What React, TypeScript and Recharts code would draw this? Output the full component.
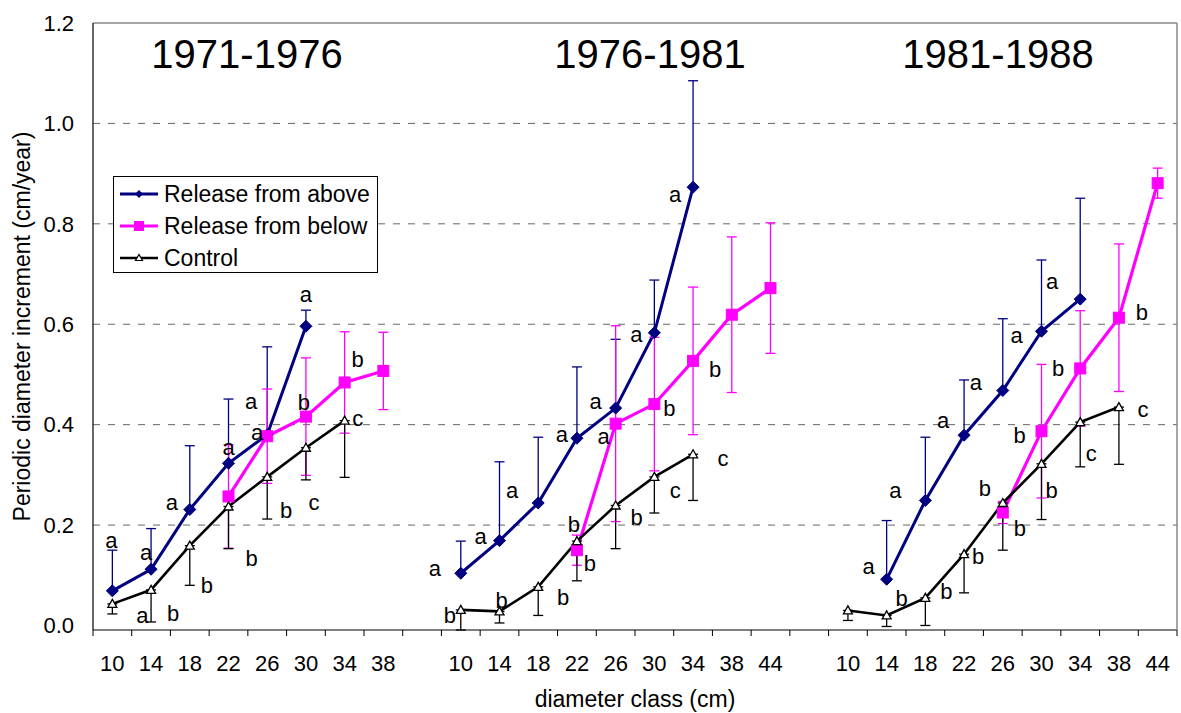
import React from "react";
import {
  LineChart,
  Line,
  XAxis,
  YAxis,
  CartesianGrid,
  ErrorBar,
  ReferenceLine,
  Legend,
  LabelList,
} from "recharts";

const FONT = "'Liberation Sans', Arial, sans-serif";
const NAVY = "#000080";
const PINK = "#ff00ff";
const BLACK = "#000000";

const periods = ["1971-1976", "1976-1981", "1981-1988"];

// diameter classes (cm) per period
const classes1 = [10, 14, 18, 22, 26, 30, 34, 38];
const classes2 = [10, 14, 18, 22, 26, 30, 34, 38, 44];
const classes3 = [10, 14, 18, 22, 26, 30, 34, 38, 44];

// 1971-1976
const above1 = [0.069, 0.112, 0.231, 0.323, 0.38, 0.596, null, null];
const aboveErr1 = [0.081, 0.081, 0.127, 0.128, 0.175, 0.032, null, null];
const below1 = [null, null, null, 0.257, 0.377, 0.416, 0.484, 0.507];
const belowErr1 = [null, null, null, 0.103, 0.094, 0.117, 0.101, 0.077];
const control1 = [0.043, 0.071, 0.159, 0.237, 0.296, 0.354, 0.408, null];
const controlErr1 = [0.02, 0.064, 0.079, 0.084, 0.084, 0.064, 0.113, null];
const aboveLetters1 = ["a", "a", "a", "a", "a", "a", null, null];
const belowLetters1 = [null, null, null, null, "a", "b", "b", null];
const controlLetters1 = ["a", "b", "b", "b", "b", "c", "c", null];

// 1976-1981
const above2 = [0.104, 0.169, 0.244, 0.373, 0.433, 0.583, 0.873, null, null];
const aboveErr2 = [0.064, 0.157, 0.131, 0.142, 0.137, 0.105, 0.212, null, null];
const below2 = [null, null, null, 0.15, 0.402, 0.441, 0.527, 0.619, 0.672];
const belowErr2 = [null, null, null, 0.03, 0.195, 0.133, 0.147, 0.155, 0.13];
const control2 = [0.031, 0.028, 0.077, 0.168, 0.239, 0.296, 0.341, null, null];
const controlErr2 = [0.04, 0.023, 0.057, 0.079, 0.086, 0.072, 0.092, null, null];
const aboveLetters2 = ["a", "a", "a", "a", "a", "a", "a", null, null];
const belowLetters2 = [null, null, null, "b", "a", "b", "b", null, null];
const controlLetters2 = ["b", "b", "b", "b", "b", "c", "c", null, null];

// 1981-1988
const above3 = [null, 0.092, 0.249, 0.379, 0.468, 0.586, 0.65, null, null];
const aboveErr3 = [null, 0.117, 0.126, 0.11, 0.143, 0.142, 0.201, null, null];
const below3 = [null, null, null, null, 0.225, 0.387, 0.512, 0.613, 0.881];
const belowErr3 = [null, null, null, null, 0.022, 0.133, 0.115, 0.147, 0.03];
const control3 = [0.03, 0.02, 0.055, 0.142, 0.244, 0.322, 0.405, 0.435, null];
const controlErr3 = [0.02, 0.022, 0.055, 0.077, 0.094, 0.111, 0.089, 0.114, null];
const aboveLetters3 = [null, "a", "a", "a", "a", "a", "a", null, null];
const belowLetters3 = [null, null, null, null, "b", "b", "b", "b", null];
const controlLetters3 = [null, "b", "b", "b", "b", "b", "c", "c", null];

// where each significance letter sits, in px from its point
type At = [number, number] | null;
const aboveLabelAt1: At[] = [[-1, -50], [-5, -17], [-18, -7], [0, -16], [-16, -33], [0, -32], null, null];
const belowLabelAt1: At[] = [null, null, null, null, [-10, -4], [-2, -14], [13, -23], null];
const controlLabelAt1: At[] = [[30, 12], [22, 24], [17, 40], [23, 52], [19, 34], [8, 55], [13, -2], null];
const aboveLabelAt2: At[] = [[-26, -5], [-19, -4], [-26, -12], [-15, -4], [-20, -7], [-18, 2], [-18, 7], null, null];
const belowLabelAt2: At[] = [null, null, null, [13, 13], [-12, 13], [15, 4], [22, 9], null, null];
const controlLabelAt2: At[] = [[-11, 6], [2, -11], [25, 11], [-3, -17], [21, 12], [21, 14], [30, 4], null, null];
const aboveLabelAt3: At[] = [null, [-18, -13], [-30, -10], [-21, -15], [-27, -8], [-25, 4], [-28, -18], null, null];
const belowLabelAt3: At[] = [null, null, null, null, [17, 16], [-22, 4], [-22, 0], [23, -5], null];
const controlLabelAt3: At[] = [null, [15, -17], [21, -6], [14, 2], [-18, -14], [10, 27], [11, 31], [24, 2], null];

const groups = [
  { classes: classes1, above: above1, aboveErr: aboveErr1, below: below1, belowErr: belowErr1, control: control1, controlErr: controlErr1,
    aL: aboveLetters1, bL: belowLetters1, cL: controlLetters1, aAt: aboveLabelAt1, bAt: belowLabelAt1, cAt: controlLabelAt1 },
  { classes: classes2, above: above2, aboveErr: aboveErr2, below: below2, belowErr: belowErr2, control: control2, controlErr: controlErr2,
    aL: aboveLetters2, bL: belowLetters2, cL: controlLetters2, aAt: aboveLabelAt2, bAt: belowLabelAt2, cAt: controlLabelAt2 },
  { classes: classes3, above: above3, aboveErr: aboveErr3, below: below3, belowErr: belowErr3, control: control3, controlErr: controlErr3,
    aL: aboveLetters3, bL: belowLetters3, cL: controlLetters3, aAt: aboveLabelAt3, bAt: belowLabelAt3, cAt: controlLabelAt3 },
];

// one row per category slot, an empty slot between periods
const rows: any[] = [];
groups.forEach((g, gi) => {
  if (gi > 0) rows.push({ pos: rows.length + 0.5, cls: "" });
  g.classes.forEach((c, i) => {
    rows.push({
      pos: rows.length + 0.5,
      cls: String(c),
      above: g.above[i],
      aboveErr: g.above[i] == null ? undefined : [0, g.aboveErr[i]],
      below: g.below[i],
      belowErr: g.below[i] == null ? undefined : [g.belowErr[i], g.belowErr[i]],
      control: g.control[i],
      controlErr: g.control[i] == null ? undefined : [g.controlErr[i], 0],
      aboveLetter: g.aL[i],
      belowLetter: g.bL[i],
      controlLetter: g.cL[i],
      aboveAt: g.aAt[i],
      belowAt: g.bAt[i],
      controlAt: g.cAt[i],
    });
  });
});

const xTicks = Array.from({ length: rows.length * 2 + 1 }, (_, k) => k / 2);
const yTicks = [0, 0.2, 0.4, 0.6, 0.8, 1.0, 1.2];
const gridValues = [0.2, 0.4, 0.6, 0.8, 1.0];

const Diamond = (p: any) => {
  if (p.cx == null || p.cy == null || p.value == null) return <g key={`dm-${p.index}`} />;
  const { cx, cy } = p;
  const r = 6;
  return (
    <polygon key={`dm-${p.index}`} points={`${cx},${cy - r} ${cx + r},${cy} ${cx},${cy + r} ${cx - r},${cy}`} fill={NAVY} stroke={NAVY} />
  );
};

const Square = (p: any) => {
  if (p.cx == null || p.cy == null || p.value == null) return <g key={`sq-${p.index}`} />;
  return <rect key={`sq-${p.index}`} x={p.cx - 5.5} y={p.cy - 5.5} width={11} height={11} fill={PINK} stroke={PINK} />;
};

const Triangle = (p: any) => {
  if (p.cx == null || p.cy == null || p.value == null) return <g key={`tr-${p.index}`} />;
  const { cx, cy } = p;
  return (
    <polygon key={`tr-${p.index}`} points={`${cx},${cy - 4.5} ${cx + 4.5},${cy + 3.5} ${cx - 4.5},${cy + 3.5}`} fill="#fff" stroke={BLACK} strokeWidth={1.3} />
  );
};

const letterLabel = (atKey: string) => (props: any) => {
  const { index, value } = props;
  const vb = props.viewBox || {};
  const x = props.x ?? vb.x;
  const y = props.y ?? vb.y;
  const row = rows[index];
  const at = row ? row[atKey] : null;
  if (!value || !at || x == null || y == null) return null;
  return (
    <text x={x + at[0]} y={y + at[1]} textAnchor="middle" dominantBaseline="central" fontSize={22} fontFamily={FONT} fill="#000">
      {value}
    </text>
  );
};

const XTick = (props: any) => {
  const { x, y, payload } = props;
  const v = payload.value;
  if (Number.isInteger(v)) {
    return <line x1={x} x2={x} y1={y - 6} y2={y} stroke="#000" strokeWidth={1} />;
  }
  const row = rows[Math.floor(v)];
  return (
    <text x={x} y={y + 27} textAnchor="middle" dominantBaseline="central" fontSize={22} fontFamily={FONT} fill="#000">
      {row ? row.cls : ""}
    </text>
  );
};

const legendOrder = ["above", "below", "control"];
const legendStyle: Record<string, { color: string; mark: string; width: number }> = {
  above: { color: NAVY, mark: "diamond", width: 3 },
  below: { color: PINK, mark: "square", width: 3 },
  control: { color: BLACK, mark: "triangle", width: 2.5 },
};

const renderLegend = (props: any) => {
  const payload = [...(props.payload || [])].sort(
    (a: any, b: any) => legendOrder.indexOf(a.dataKey) - legendOrder.indexOf(b.dataKey)
  );
  return (
    <div
      style={{
        boxSizing: "border-box",
        width: 265,
        height: 97,
        border: "1px solid #000",
        background: "#fff",
        paddingTop: 1,
        fontFamily: FONT,
      }}
    >
      {payload.map((item: any) => {
        const s = legendStyle[item.dataKey];
        if (!s) return null;
        return (
          <div key={item.dataKey} style={{ display: "flex", alignItems: "center", height: 32 }}>
            <svg width={50} height={32} style={{ flex: "none" }}>
              <line x1={6} x2={44} y1={16} y2={16} stroke={s.color} strokeWidth={s.width} />
              {s.mark === "diamond" && <polygon points="25,12 29,16 25,20 21,16" fill={s.color} />}
              {s.mark === "square" && <rect x={20} y={11} width={10} height={10} fill={s.color} />}
              {s.mark === "triangle" && <polygon points="25,12.5 28.5,18.5 21.5,18.5" fill="#fff" stroke={s.color} strokeWidth={1.2} />}
            </svg>
            <span style={{ fontSize: 23, color: "#000", whiteSpace: "nowrap" }}>{item.value}</span>
          </div>
        );
      })}
    </div>
  );
};

const titleCenters = [247, 650, 998];

export default function App() {
  return (
    <div style={{ position: "absolute", left: 0, top: 0, width: 1181, height: 713, background: "#fff", fontFamily: FONT }}>
      <LineChart width={1181} height={713} data={rows} margin={{ top: 23, right: 0, left: 0, bottom: 0 }}>
        <CartesianGrid vertical={false} yAxisId="left" horizontalValues={gridValues} stroke="#666" strokeDasharray="7 8" />
        <XAxis
          dataKey="pos"
          type="number"
          domain={[0, rows.length]}
          ticks={xTicks}
          interval={0}
          height={83}
          tickSize={6}
          tickMargin={0}
          tickLine={false}
          axisLine={{ stroke: "#000", strokeWidth: 1.2 }}
          tick={XTick}
          label={{
            value: "diameter class (cm)",
            content: (p: any) => {
              const vb = p.viewBox || {};
              return (
                <text x={vb.x + vb.width / 2} y={vb.y + 69} textAnchor="middle" dominantBaseline="central" fontSize={23} fontFamily={FONT} fill="#000">
                  diameter class (cm)
                </text>
              );
            },
          }}
        />
        <YAxis
          yAxisId="left"
          domain={[0, 1.2]}
          ticks={yTicks}
          width={93}
          tickFormatter={(v: number) => v.toFixed(1)}
          tickLine={false}
          tickSize={6}
          tickMargin={13}
          axisLine={{ stroke: "#000", strokeWidth: 1.2 }}
          tick={{ fill: "#000", fontSize: 22, fontFamily: FONT }}
          label={{
            value: "Periodic diameter increment (cm/year)",
            content: (p: any) => {
              const vb = p.viewBox || {};
              const cx = vb.x + 22;
              const cy = vb.y + vb.height / 2;
              return (
                <text x={cx} y={cy} transform={`rotate(-90 ${cx} ${cy})`} textAnchor="middle" dominantBaseline="central" fontSize={23} fontFamily={FONT} fill="#000">
                  Periodic diameter increment (cm/year)
                </text>
              );
            },
          }}
        />
        <YAxis
          yAxisId="right"
          orientation="right"
          domain={[0, 1.2]}
          width={4}
          tick={false}
          tickLine={false}
          axisLine={{ stroke: "#888", strokeWidth: 1.5 }}
        />
        <ReferenceLine y={1.2} yAxisId="left" stroke="#888" strokeWidth={1.5} />
        <Legend
          layout="horizontal"
          verticalAlign="middle"
          align="center"
          wrapperStyle={{ left: 113, top: 176, width: 265, height: 97 }}
          content={renderLegend}
        />
        <Line
          yAxisId="left"
          dataKey="above"
          name="Release from above"
          type="linear"
          stroke={NAVY}
          strokeWidth={3}
          dot={Diamond}
          activeDot={false}
          isAnimationActive={false}
        >
          <ErrorBar dataKey="aboveErr" direction="y" width={5} stroke={NAVY} strokeWidth={1.3} />
          <LabelList dataKey="aboveLetter" content={letterLabel("aboveAt")} />
        </Line>
        <Line
          yAxisId="left"
          dataKey="below"
          name="Release from below"
          type="linear"
          stroke={PINK}
          strokeWidth={3.2}
          dot={Square}
          activeDot={false}
          isAnimationActive={false}
        >
          <ErrorBar dataKey="belowErr" direction="y" width={5} stroke={PINK} strokeWidth={1.3} />
          <LabelList dataKey="belowLetter" content={letterLabel("belowAt")} />
        </Line>
        <Line
          yAxisId="left"
          dataKey="control"
          name="Control"
          type="linear"
          stroke={BLACK}
          strokeWidth={2.6}
          dot={Triangle}
          activeDot={false}
          isAnimationActive={false}
        >
          <ErrorBar dataKey="controlErr" direction="y" width={5} stroke={BLACK} strokeWidth={1.3} />
          <LabelList dataKey="controlLetter" content={letterLabel("controlAt")} />
        </Line>
      </LineChart>
      {periods.map((p, i) => (
        <div
          key={p}
          style={{
            position: "absolute",
            left: titleCenters[i],
            top: 34,
            transform: "translateX(-50%)",
            fontSize: 40,
            lineHeight: "40px",
            whiteSpace: "nowrap",
            color: "#000",
            fontFamily: FONT,
          }}
        >
          {p}
        </div>
      ))}
    </div>
  );
}
